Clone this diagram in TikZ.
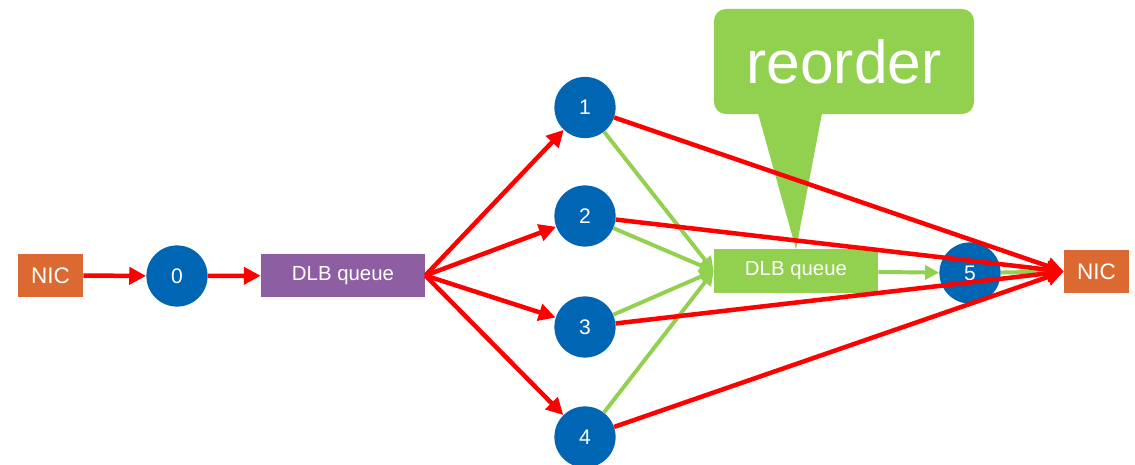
\documentclass[tikz,border=0pt]{standalone}
\usepackage{fontspec}
\setmainfont{Liberation Sans}
\usetikzlibrary{arrows.meta,calc}
\definecolor{nicorange}{HTML}{DA6A31}
\definecolor{coreblue}{HTML}{0066B3}
\definecolor{dlbpurple}{HTML}{8E5EA2}
\definecolor{reorgreen}{HTML}{92D050}
\definecolor{flowred}{HTML}{FF0000}

\begin{document}
\begin{tikzpicture}[x=0.025cm,y=-0.025cm,text=white,
  nic/.style={fill=nicorange,minimum width=1.625cm,minimum height=1.075cm,
    font=\fontsize{16}{18}\selectfont},
  core/.style={circle,fill=coreblue,minimum size=1.53cm,inner sep=0pt,
    font=\fontsize{15}{17}\selectfont},
  queue/.style={minimum width=4.1cm,minimum height=1.075cm,
    font=\fontsize{14.5}{17}\selectfont},
  redflow/.style={flowred,line width=3.2pt,-{Triangle[length=12pt,width=12pt]}},
  greenflow/.style={reorgreen,line width=2.8pt,-{Triangle[length=10pt,width=10pt]}}]
  \useasboundingbox (0,0) rectangle (1135,465);
  \node[nic] (nicin) at (50.5,275.5) {NIC};
  \node[core] (n0) at (177,276) {0};
  \node[queue,fill=dlbpurple] (dlb) at (343,275.5) {DLB queue};
  \foreach \i/\y in {1/107.5,2/216,3/327,4/437}
    \node[core] (n\i) at (585,\y) {\i};
  \node[queue,fill=reorgreen] (rq) at (796,271) {DLB queue};
  \node[core] (n5) at (970,273) {5};
  \node[nic] (nicout) at (1096.5,271.5) {NIC};
  \node[fill=reorgreen,rounded corners=0.3cm,minimum width=6.5cm,
        minimum height=2.625cm,font=\fontsize{43}{50}\selectfont]
    (callout) at (844,61.5) {reorder};
  \fill[reorgreen] ($(callout.south)+(-86,-1)$)
    --($(callout.south)+(-22,-1)$)--(rq.north)--cycle;
  % reordered path
  \foreach \i in {1,...,4}
    \draw[greenflow] (n\i)--(rq.west);
  \draw[greenflow] (rq)--(n5);
  \draw[greenflow] (n5)--(nicout.west);
  % unordered path
  \draw[redflow] (nicin)--(n0);
  \draw[redflow] (n0)--(dlb);
  \foreach \i in {1,...,4}{
    \draw[redflow] (dlb.east)--(n\i);
    \draw[redflow] (n\i)--(nicout.west);
  }
\end{tikzpicture}
\end{document}
